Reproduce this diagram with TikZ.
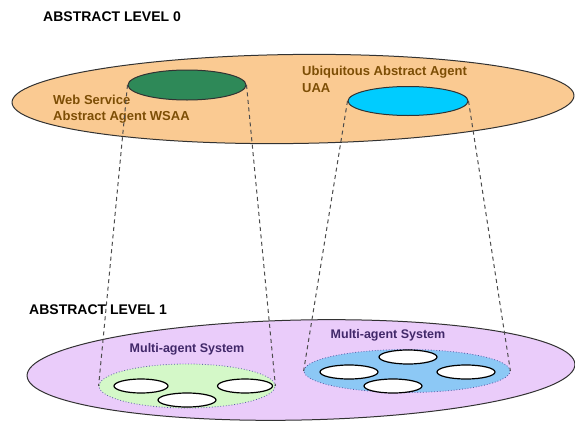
\documentclass[tikz,border=0pt]{standalone}
\usepackage{fontspec}
\setmainfont{Liberation Sans}
\usetikzlibrary{shapes.geometric}
\definecolor{orangefill}{RGB}{250,202,146}
\definecolor{purplefill}{RGB}{234,204,250}
\definecolor{darkgreen}{RGB}{46,137,88}
\definecolor{cyanfill}{RGB}{0,204,255}
\definecolor{lightgreen}{RGB}{212,248,200}
\definecolor{lightblue}{RGB}{140,200,245}
\definecolor{browntext}{RGB}{125,78,5}
\definecolor{navytext}{RGB}{65,40,105}
\definecolor{edgegray}{RGB}{50,50,50}
\tikzset{
  ell/.style={ellipse, draw=edgegray, line width=1pt, inner sep=0pt},
  group/.style={ellipse, draw=gray!70!blue, dotted, line width=0.8pt, inner sep=0pt},
  agent/.style={ellipse, draw=black, fill=white, line width=1.2pt, inner sep=0pt, minimum width=56pt, minimum height=14pt},
  title/.style={font=\fontsize{14}{14}\selectfont\bfseries, inner sep=0pt, anchor=west},
  brown/.style={font=\fontsize{13}{13}\selectfont\bfseries, text=browntext, inner sep=0pt, anchor=west},
  mas/.style={font=\fontsize{12.5}{12.5}\selectfont\bfseries, text=navytext, inner sep=0pt},
  link/.style={dash pattern=on 4pt off 3.5pt, draw=black!70, line width=1pt}
}
\begin{document}
\begin{tikzpicture}[x=1pt,y=-1pt]
\fill[white] (0,0) rectangle (575,423);
\useasboundingbox (0,0) rectangle (575,423);
% level 0
\node[title] (t0) at (43,17) {ABSTRACT LEVEL 0};
\node[ell, fill=orangefill, minimum width=562pt, minimum height=89pt, rotate=0.7] (L0) at (293,99) {};
\node[ell, fill=darkgreen, minimum width=118pt, minimum height=30pt] (ws) at (187,85) {};
\node[ell, fill=cyanfill, minimum width=120pt, minimum height=29pt] (ua) at (408,101) {};
\node[brown] (wst1) at (53,100) {Web Service};
\node[brown] (wst2) at (53,117) {Abstract Agent WSAA};
\node[brown] (uat1) at (302,72) {Ubiquitous Abstract Agent};
\node[brown] (uat2) at (302,88) {UAA};
% level 1
\node[title] (t1) at (29,310) {ABSTRACT LEVEL 1};
\node[ell, fill=purplefill, minimum width=548pt, minimum height=100pt, rotate=1.2] (L1) at (301,370) {};
\node[group, fill=lightgreen, minimum width=176pt, minimum height=44pt] (gm) at (187,386) {};
\node[group, fill=lightblue, minimum width=206pt, minimum height=43pt] (bm) at (407,371) {};
\node[mas] (gmt) at (187,349) {Multi-agent System};
\node[mas] (bmt) at (388,335) {Multi-agent System};
% agents green
\node[agent, minimum width=54pt] (g1) at (141,386) {};
\node[agent, minimum width=55pt] (g2) at (245,386) {};
\node[agent, minimum width=58pt] (g3) at (187,400) {};
% agents blue
\node[agent, minimum width=58pt] (b1) at (408,357) {};
\node[agent, minimum width=58pt] (b2) at (349,372) {};
\node[agent, minimum width=58pt] (b3) at (466,372) {};
\node[agent, minimum width=58pt] (b4) at (393,386) {};
% links
\draw[link] (ws.west) -- (gm.west);
\draw[link] (ws.east) -- (gm.east);
\draw[link] (ua.west) -- (bm.west);
\draw[link] (ua.east) -- (bm.east);
\end{tikzpicture}
\end{document}
